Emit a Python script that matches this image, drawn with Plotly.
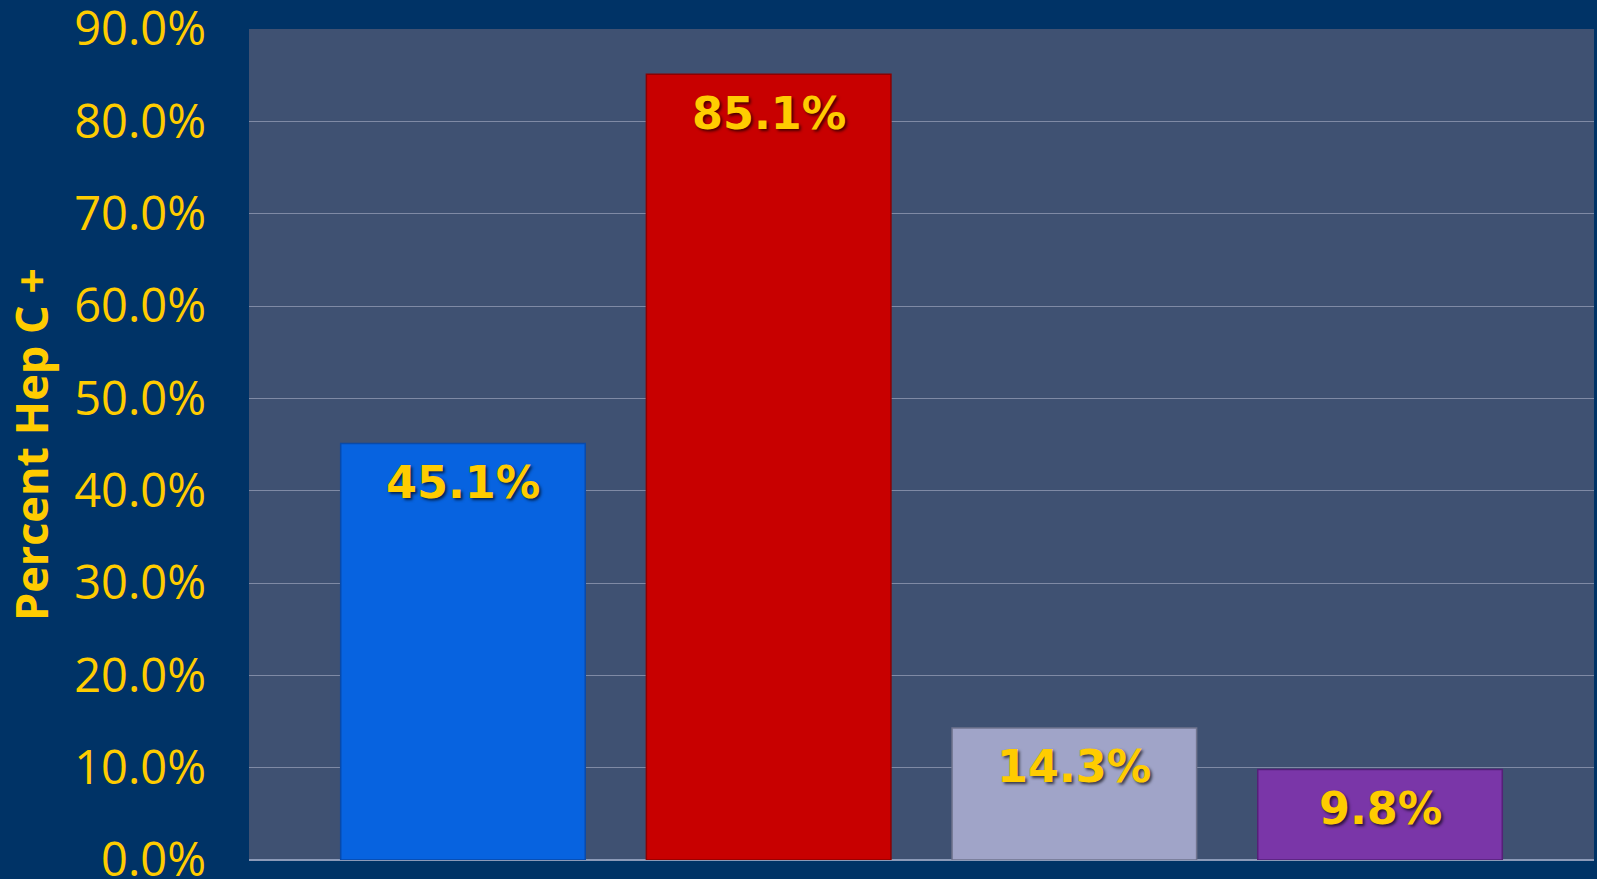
import plotly.graph_objects as go

# Data
categories = [1, 2, 3, 4]
values = [45.1, 85.1, 14.3, 9.8]
labels = ["45.1%", "85.1%", "14.3%", "9.8%"]
bar_colors = ["#0763e0", "#c80000", "#a0a4c8", "#7a36a8"]
edge_colors = ["#0a4aa8", "#8c0000", "#70748e", "#552078"]
tick_vals = [0, 10, 20, 30, 40, 50, 60, 70, 80, 90]
tick_text = ["0.0%", "10.0%", "20.0%", "30.0%", "40.0%", "50.0%", "60.0%", "70.0%", "80.0%", "90.0%"]
y_title = "Percent Hep C +"

YELLOW = "#FFCC00"

fig = go.Figure()
fig.add_trace(go.Bar(
    x=categories,
    y=values,
    width=0.8,
    marker=dict(color=bar_colors, line=dict(color=edge_colors, width=1.5)),
    hoverinfo="skip",
))

for xv, yv, t in zip(categories, values, labels):
    fig.add_annotation(
        x=xv, y=yv, text=t, showarrow=False,
        xref="x", yref="y", yanchor="middle", yshift=-39,
        font=dict(family="DejaVu Sans", size=44.5, color=YELLOW, weight="bold",
                  shadow="2px 2px 3px rgba(0,0,0,0.65)"),
    )

fig.update_layout(
    width=1597, height=879,
    paper_bgcolor="#003366",
    plot_bgcolor="#3f5172",
    margin=dict(l=249, r=3, t=29, b=19, autoexpand=False),
    showlegend=False,
    bargap=0.2,
)
fig.update_xaxes(
    range=[0.3, 4.7], showticklabels=False, showgrid=False, zeroline=False,
    showline=False, ticks="", automargin=False,
)
fig.update_yaxes(
    range=[0, 90], tickvals=tick_vals, ticktext=tick_text,
    tickfont=dict(family="Open Sans", size=47, color=YELLOW),
    ticklabelstandoff=42, ticklabeloverflow="allow", automargin=False,
    showgrid=True, gridcolor="#7f8aa5", gridwidth=1,
    zeroline=True, zerolinecolor="#8c9ab8", zerolinewidth=2,
    showline=False, ticks="",
    title=dict(text=y_title, font=dict(family="Open Sans", size=45, color=YELLOW, weight="bold"),
               standoff=14),
)

fig.write_html(
    "out.html",
    config={"displayModeBar": False},
    post_script="document.body.style.margin='0';document.body.style.overflow='hidden';",
)
